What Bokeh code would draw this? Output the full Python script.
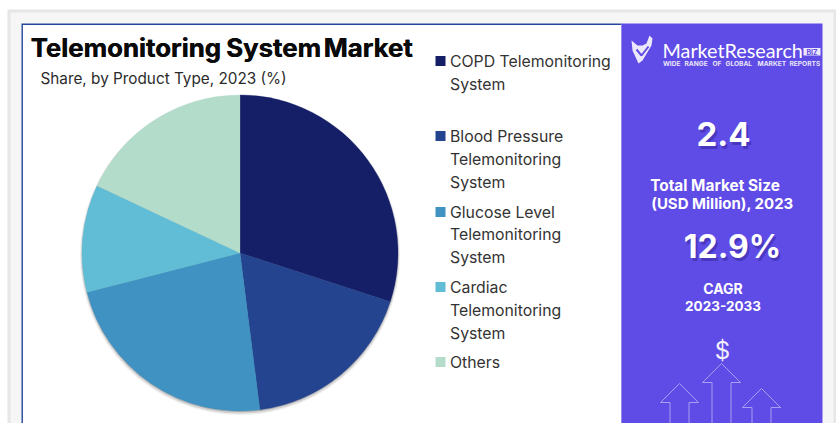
from math import pi

from bokeh.core.properties import value
from bokeh.embed import file_html
from bokeh.plotting import figure
from bokeh.resources import INLINE

# Market share by product type, 2023 (%)
products = ["COPD", "Blood Pressure", "Glucose Level", "Cardiac", "Others"]
shares = [30.0, 18.0, 23.0, 11.0, 18.0]
colors = ["#151f68", "#24448f", "#3f92c1", "#60bdd5", "#b3dccb"]

legend_lines = [
    ["COPD Telemonitoring", "System"],
    ["Blood Pressure", "Telemonitoring", "System"],
    ["Glucose Level", "Telemonitoring", "System"],
    ["Cardiac", "Telemonitoring", "System"],
    ["Others"],
]
legend_tops = [60.5, 135.5, 211.5, 286.5, 361.5]
legend_line_steps = [23, 23, 22.5, 23, 0]

market_size = "2.4"
cagr = "12.9%"

W, H = 836, 423
FONT = "Inter"
PURPLE = "#5f4be6"


def Y(y):
    """Convert a top-down page position to the upward y axis."""
    return H - y


p = figure(width=W, height=H, x_range=(0, W), y_range=(0, H),
           output_backend="svg", toolbar_location=None, min_border=0)
p.axis.visible = False
p.grid.visible = False
p.outline_line_color = None
p.background_fill_color = "white"
p.border_fill_color = "white"


def box(x0, y0, x1, y1, color):
    p.quad(left=x0, right=x1, top=Y(y0), bottom=Y(y1), fill_color=color, line_color=None)


def label(x, y, text, size, color="#2b2b2b", bold=False, align="left", font=FONT, alpha=1.0):
    p.text(x=[x], y=[Y(y)], text=[text], text_font=value(font),
           text_font_size=f"{size}px", text_color=color, text_alpha=alpha,
           text_align=align, text_baseline="middle",
           text_font_style="bold" if bold else "normal")


def shadowed(x, y, text, size):
    label(x + 2, y + 3, text, size, color="#1c1470", bold=True, align="center", alpha=0.35)
    label(x, y, text, size, color="white", bold=True, align="center")


# Page frame
box(7, 9, 836, 423, "#e6e6e6")
box(10, 12, 833, 423, "#f6f6f6")
box(21, 23, 621, 423, "#24469c")
box(22.4, 24.4, 621, 423, "white")
box(621, 23, 822, 423, PURPLE)

# Pie with a soft shadow beneath it
cx, cy, r = 239.5, 252.5, 158
for grow, off, a in [(2.0, 2.0, 0.10), (1.0, 1.5, 0.18), (0.0, 1.0, 0.30)]:
    p.circle(x=[cx], y=[Y(cy + off)], radius=r + grow, fill_color="#555555",
             fill_alpha=a, line_color=None)

angle = pi / 2
total = sum(shares)
for share, color in zip(shares, colors):
    end = angle - share / total * 2 * pi
    p.wedge(x=[cx], y=[Y(cy)], radius=r, start_angle=end, end_angle=angle,
            fill_color=color, line_color=color, line_width=0.3)
    angle = end

# Headings: word gaps in the title are tighter than the font's own
for word, x in [("Telemonitoring", 30), ("System", 225.5), ("Market", 323)]:
    label(x, 46.5, word, 25.8, color="#0a0a0a", bold=True)
    label(x + 0.4, 46.5, word, 25.8, color="#0a0a0a", bold=True)
label(40, 77.5, "Share, by Product Type, 2023 (%)", 15.3, color="#2b2b2b")

# Legend
for lines, top, step, color in zip(legend_lines, legend_tops, legend_line_steps, colors):
    box(435, top - 5, 445, top + 5, color)
    for i, line in enumerate(lines):
        label(449.5, top + i * step, line, 15.8, color="#333333")

# Brand mark
p.patch(x=[631, 637, 642, 646, 649, 652, 651, 642, 638, 632],
        y=[Y(v) for v in [40, 45, 45, 43, 35, 38, 45, 60, 63, 50]],
        fill_color="#ece9fc", line_color=None)
p.line(x=[636, 641, 648], y=[Y(v) for v in [49, 55, 46]], line_color=PURPLE, line_width=2)
label(662, 49.5, "MarketResearch", 19.8, color="white", font="Lato")
box(803, 47.5, 820, 55, "#ece9fc")
label(811.5, 51.5, "BIZ", 7, color=PURPLE, bold=True, align="center")
for word, x in [("WIDE", 662.5), ("RANGE", 684), ("OF", 712), ("GLOBAL", 725), ("MARKET", 757), ("REPORTS", 789)]:
    label(x, 63, word, 6.6, color="#e9e6fb", bold=True)

# Key figures
shadowed(723, 133, market_size, 33)
label(714.5, 185, "Total Market Size", 15.4, color="white", bold=True, align="center")
label(722, 203, "(USD Million), 2023", 15, color="white", bold=True, align="center")
shadowed(732, 245.5, cagr, 32)
label(722.5, 288, "CAGR", 14, color="white", bold=True, align="center")
label(722.5, 305, "2023-2033", 13.5, color="white", bold=True, align="center")
label(722, 350, "$", 24, color="#f1effd", align="center")

# Rising arrows
for apex_x, apex_y in [(679, 383), (721, 363), (761, 388)]:
    p.line(x=[apex_x - 9.5, apex_x - 9.5, apex_x - 19, apex_x, apex_x + 19, apex_x + 9.5, apex_x + 9.5],
           y=[Y(v) for v in [H, apex_y + 19, apex_y + 19, apex_y, apex_y + 19, apex_y + 19, H]],
           line_color="#a89ef2", line_width=1)

open("out.html", "w").write(file_html(p, INLINE))
